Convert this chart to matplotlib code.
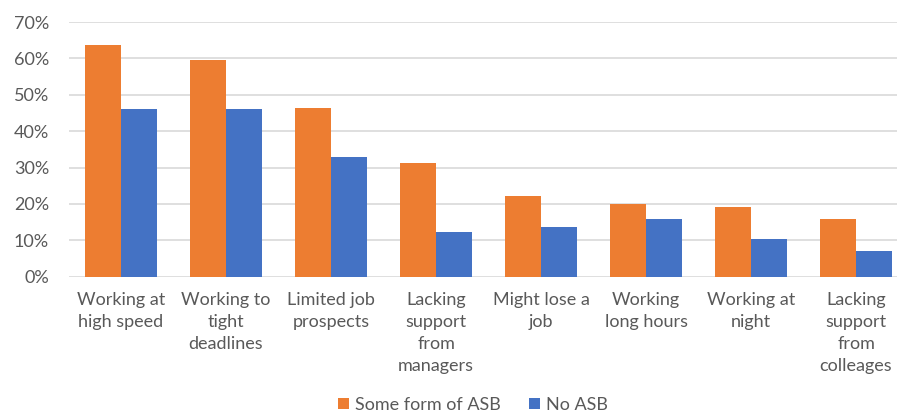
import numpy as np
import matplotlib
matplotlib.use("Agg")
import matplotlib.pyplot as plt

categories = ["Working at\nhigh speed", "Working to\ntight\ndeadlines", "Limited job\nprospects",
              "Lacking\nsupport\nfrom\nmanagers", "Might lose a\njob", "Working\nlong hours",
              "Working at\nnight", "Lacking\nsupport\nfrom\ncolleages"]
some_asb = [63.8, 59.7, 46.5, 31.3, 22.2, 20.1, 19.3, 15.8]
no_asb = [46.0, 46.0, 32.9, 12.4, 13.8, 16.0, 10.3, 7.1]
yticks = [0, 10, 20, 30, 40, 50, 60, 70]

orange = "#ED7D31"
blue = "#4472C4"
grey = "#595959"

plt.rcParams['font.family'] = ['Lato', 'DejaVu Sans']

fig = plt.figure(figsize=(8.97, 4.18), dpi=100)
W, H = 897, 418
ax = fig.add_axes([68.5 / W, 141.3 / H, (W - 68.5) / W, 254.6 / H])

x = np.arange(len(categories))
w = 0.343
ax.bar(x - w / 2, some_asb, w, color=orange, label="Some form of ASB", zorder=3)
ax.bar(x + w / 2, no_asb, w, color=blue, label="No ASB", zorder=3)

ax.set_xlim(-0.5, -0.5 + (W - 68.5) / 105)
ax.set_ylim(0, 70)
ax.set_yticks(yticks)
ax.set_yticklabels([f"{v}%" for v in yticks])
ax.set_xticks(x)
ax.set_xticklabels(categories, linespacing=1.45)

ax.grid(axis="y", color="#D9D9D9", linewidth=1.2, zorder=0)
for s in ax.spines.values():
    s.set_visible(False)
ax.tick_params(axis="both", length=0, labelsize=13, labelcolor=grey)
ax.tick_params(axis="x", pad=11)
ax.tick_params(axis="y", pad=14)

fig.legend(loc="center", bbox_to_anchor=(473 / W, 1 - 405 / H), ncol=2, frameon=False,
           fontsize=13, labelcolor=grey, handlelength=0.6, handleheight=0.6,
           handletextpad=0.3, columnspacing=1.6)

fig.savefig("out.png", dpi=100)
